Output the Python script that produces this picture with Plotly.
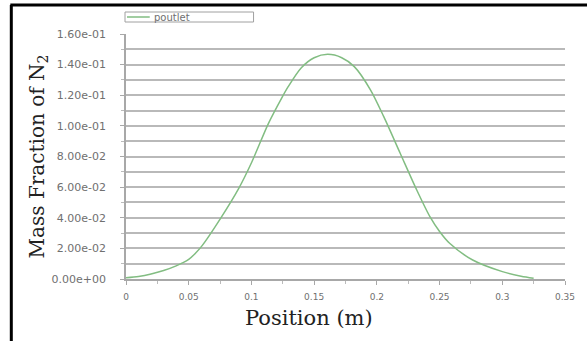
import plotly.graph_objects as go

# Data
position = [0.0, 0.01, 0.02, 0.03, 0.04, 0.045, 0.05, 0.055, 0.0607, 0.0754, 0.0899, 0.1004,
            0.1135, 0.124, 0.1293, 0.1398, 0.15, 0.1608, 0.172, 0.182, 0.195, 0.2055, 0.2186,
            0.2318, 0.2423, 0.25, 0.258, 0.2764, 0.3001, 0.315, 0.325]
mass_fraction = [0.0008, 0.0016, 0.0032, 0.0055, 0.0086, 0.0105, 0.0128, 0.0165, 0.0218,
                 0.0396, 0.0592, 0.0766, 0.1015, 0.1180, 0.1256, 0.1380, 0.1445, 0.1467,
                 0.1445, 0.1387, 0.1234, 0.1060, 0.0821, 0.0581, 0.0407, 0.0310, 0.0233,
                 0.0124, 0.0048, 0.0018, 0.0005]
series_name = "poutlet"

y_tick_values = [0.0, 0.02, 0.04, 0.06, 0.08, 0.10, 0.12, 0.14, 0.16]
y_tick_labels = ["0.00e+00", "2.00e-02", "4.00e-02", "6.00e-02", "8.00e-02",
                 "1.00e-01", "1.20e-01", "1.40e-01", "1.60e-01"]
x_tick_values = [0, 0.05, 0.1, 0.15, 0.2, 0.25, 0.3, 0.35]
x_tick_labels = ["0", "0.05", "0.1", "0.15", "0.2", "0.25", "0.3", "0.35"]

line_col = "#82bd82"
grid_col = "#b9b9b9"
label_col = "#707070"

fig = go.Figure()
fig.add_trace(go.Scatter(x=position, y=mass_fraction, mode="lines", name=series_name,
                         line=dict(color=line_col, width=1.5, shape="spline", smoothing=0.8),
                         showlegend=False))

fig.update_layout(
    width=587, height=341,
    margin=dict(l=126, r=17, t=34, b=62),
    paper_bgcolor="white", plot_bgcolor="white",
    showlegend=False,
    xaxis=dict(range=[0, 0.35], tickvals=x_tick_values, ticktext=x_tick_labels,
               showgrid=False, zeroline=False,
               showline=True, linecolor="#a8a8a8", linewidth=1.5,
               ticks="outside", ticklen=4, tickcolor="#a8a8a8",
               minor=dict(dtick=0.025, ticks="outside", ticklen=3, tickcolor="#bbbbbb"),
               ticklabelstandoff=4,
               tickfont=dict(family="DejaVu Sans", size=9, color=label_col)),
    yaxis=dict(range=[0, 0.16], tickvals=y_tick_values, ticktext=y_tick_labels,
               showgrid=True, gridcolor=grid_col, gridwidth=1.5, zeroline=False,
               showline=True, linecolor="#a8a8a8", linewidth=1.5,
               ticks="outside", ticklen=4, tickcolor="#a8a8a8",
               minor=dict(dtick=0.01, showgrid=True, gridcolor=grid_col, gridwidth=1.5,
                          ticks="outside", ticklen=3, tickcolor="#bbbbbb"),
               ticklabelstandoff=12,
               tickfont=dict(family="DejaVu Sans", size=11, color=label_col),
               title=dict(text="Mass Fraction of N<sub>2</sub>", standoff=2,
                          font=dict(family="DejaVu Serif", size=20, color="#222222"))),
)

# x-axis title (placed slightly left of the plot centre, as in the reference)
fig.add_annotation(text="Position (m)", xref="paper", yref="paper",
                   x=(311 - 126) / 444, y=(279 - 318) / 245, xanchor="center", yanchor="middle",
                   showarrow=False,
                   font=dict(family="DejaVu Serif", size=21, color="#222222"))

# compact legend box drawn at the top-left
def px_x(p):
    return (p - 126) / 444

def px_y(p):
    return (279 - p) / 245

fig.add_shape(type="rect", xref="paper", yref="paper",
              x0=px_x(125), x1=px_x(255), y0=px_y(22), y1=px_y(12),
              line=dict(color="#a0a0a0", width=1), fillcolor="white")
fig.add_shape(type="line", xref="paper", yref="paper",
              x0=px_x(127), x1=px_x(150), y0=px_y(17), y1=px_y(17),
              line=dict(color=line_col, width=1.5))
fig.add_annotation(text=series_name, xref="paper", yref="paper",
                   x=px_x(152), y=px_y(17), xanchor="left", yanchor="middle",
                   showarrow=False,
                   font=dict(family="DejaVu Sans", size=10, color=label_col))

# black frame lines at top and left of the picture
fig.add_shape(type="line", xref="paper", yref="paper", x0=px_x(9), x1=px_x(600),
              y0=px_y(5), y1=px_y(5), line=dict(color="black", width=3))
fig.add_shape(type="line", xref="paper", yref="paper", x0=px_x(10), x1=px_x(10),
              y0=px_y(5), y1=px_y(345), line=dict(color="black", width=3))

fig.write_html("out.html")
